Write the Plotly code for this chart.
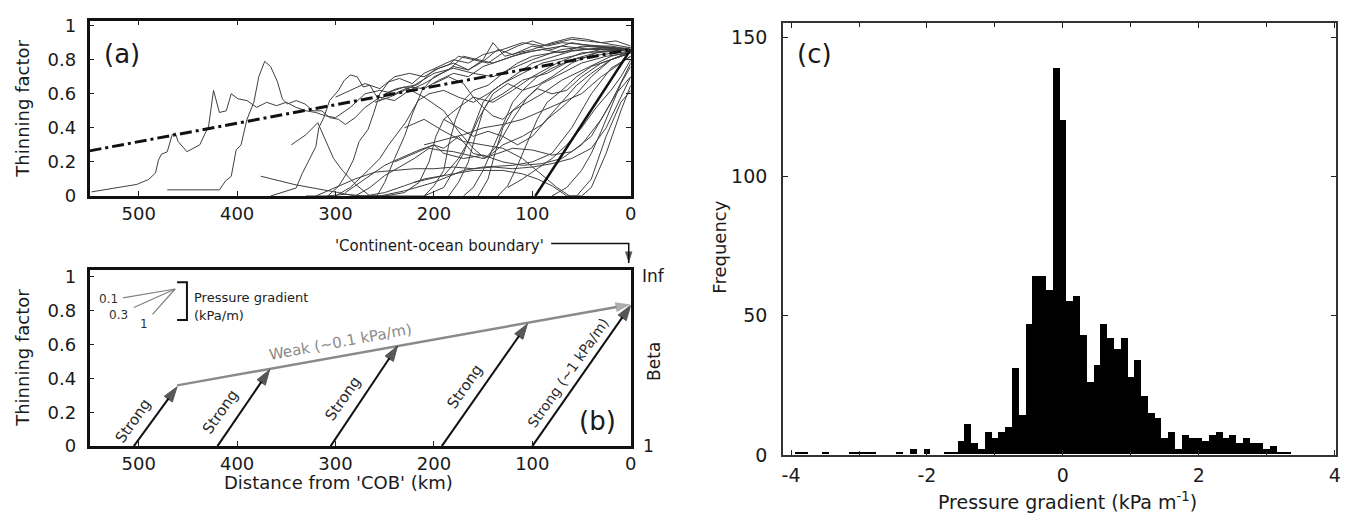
import plotly.graph_objects as go

# ---------------- data ----------------
# Panel (a): thinning-factor profiles vs distance from COB (km)
p01_km = [548, 502, 490, 483, 480, 477, 471, 466, 463, 460, 451, 438, 429, 424, 418, 411, 406, 399, 390, 380, 370, 360, 350, 340, 330, 320, 310, 300, 285, 270, 255, 240, 225, 210, 195, 180, 165, 150, 130, 110, 90, 70, 50, 25, 0]
p01_tf = [0.024, 0.068, 0.097, 0.135, 0.21, 0.245, 0.26, 0.36, 0.37, 0.32, 0.26, 0.30, 0.41, 0.62, 0.49, 0.50, 0.60, 0.57, 0.56, 0.52, 0.55, 0.53, 0.55, 0.52, 0.50, 0.49, 0.47, 0.46, 0.52, 0.60, 0.62, 0.60, 0.64, 0.63, 0.68, 0.72, 0.70, 0.76, 0.80, 0.84, 0.86, 0.84, 0.88, 0.87, 0.86]
p02_km = [471, 418, 412, 406, 401, 396, 390, 383, 378, 372, 366, 359, 354, 349, 340, 331, 323, 314, 306, 297, 290, 280, 270, 255, 240, 225, 210, 195, 180, 165, 150, 135, 120, 100, 80, 60, 40, 20, 0]
p02_tf = [0.036, 0.036, 0.087, 0.115, 0.27, 0.30, 0.45, 0.55, 0.70, 0.79, 0.76, 0.67, 0.57, 0.54, 0.56, 0.54, 0.50, 0.50, 0.46, 0.45, 0.42, 0.46, 0.52, 0.58, 0.56, 0.62, 0.66, 0.71, 0.76, 0.74, 0.79, 0.86, 0.83, 0.88, 0.86, 0.90, 0.88, 0.88, 0.86]
p03_km = [376, 340, 297, 280, 255, 230, 200, 170, 150, 120, 100, 80, 60, 40, 20, 0]
p03_tf = [0.116, 0.065, 0.02, 0.0, 0.0, 0.03, 0.08, 0.15, 0.17, 0.18, 0.20, 0.25, 0.40, 0.60, 0.75, 0.82]
p04_km = [366, 340, 334, 329, 324, 320, 317, 312, 306, 297, 291, 285, 278, 272, 265, 260, 255, 246, 238, 220, 200, 180, 160, 140, 120, 100, 70, 40, 0]
p04_tf = [0.0, 0.047, 0.13, 0.19, 0.25, 0.29, 0.40, 0.46, 0.56, 0.62, 0.68, 0.71, 0.70, 0.64, 0.65, 0.60, 0.56, 0.61, 0.63, 0.65, 0.72, 0.75, 0.72, 0.70, 0.75, 0.80, 0.86, 0.88, 0.86]
p05_km = [345, 330, 318, 310, 302, 293, 280, 265, 230, 210, 190, 170, 160, 150, 140, 120, 100, 60, 30, 0]
p05_tf = [0.30, 0.36, 0.43, 0.33, 0.22, 0.15, 0.07, 0.0, 0.0, 0.0, 0.05, 0.25, 0.40, 0.55, 0.62, 0.70, 0.78, 0.85, 0.87, 0.86]
p06_km = [308, 297, 289, 282, 276, 267, 261, 255, 246, 235, 222, 210, 195, 180, 165, 150, 130, 110, 90, 60, 30, 0]
p06_tf = [0.0, 0.056, 0.13, 0.21, 0.32, 0.39, 0.49, 0.60, 0.67, 0.69, 0.66, 0.72, 0.76, 0.80, 0.78, 0.83, 0.86, 0.90, 0.88, 0.92, 0.90, 0.87]
p07_km = [300, 285, 267, 255, 246, 238, 229, 223, 216, 205, 190, 175, 160, 145, 130, 110, 90, 60, 30, 0]
p07_tf = [0.0, 0.05, 0.15, 0.22, 0.30, 0.36, 0.43, 0.49, 0.56, 0.60, 0.62, 0.58, 0.55, 0.60, 0.66, 0.72, 0.78, 0.82, 0.86, 0.87]
p08_km = [290, 270, 250, 235, 215, 200, 190, 170, 150, 130, 110, 90, 70, 50, 30, 15, 0]
p08_tf = [0.02, 0.10, 0.18, 0.22, 0.27, 0.30, 0.25, 0.22, 0.24, 0.20, 0.18, 0.19, 0.22, 0.30, 0.45, 0.60, 0.70]
p09_km = [280, 265, 250, 235, 220, 205, 195, 180, 165, 150, 135, 120, 100, 80, 60, 40, 20, 0]
p09_tf = [0.0, 0.05, 0.12, 0.17, 0.22, 0.28, 0.27, 0.26, 0.24, 0.22, 0.25, 0.28, 0.27, 0.24, 0.26, 0.35, 0.55, 0.78]
p10_km = [258, 250, 240, 230, 222, 212, 200, 185, 170, 155, 140, 120, 100, 70, 40, 0]
p10_tf = [0.0, 0.08, 0.22, 0.35, 0.48, 0.62, 0.70, 0.74, 0.82, 0.80, 0.78, 0.82, 0.85, 0.88, 0.86, 0.86]
p11_km = [210, 200, 190, 185, 178, 170, 160, 145, 130, 115, 100, 80, 50, 20, 0]
p11_tf = [0.0, 0.06, 0.15, 0.30, 0.45, 0.56, 0.62, 0.65, 0.72, 0.78, 0.82, 0.84, 0.86, 0.87, 0.86]
p12_km = [250, 230, 210, 190, 175, 160, 148, 135, 120, 105, 90, 70, 50, 25, 0]
p12_tf = [0.60, 0.64, 0.58, 0.50, 0.38, 0.28, 0.22, 0.30, 0.45, 0.58, 0.66, 0.72, 0.78, 0.82, 0.84]
p13_km = [185, 175, 165, 158, 150, 140, 125, 110, 95, 80, 60, 35, 0]
p13_tf = [0.0, 0.08, 0.20, 0.35, 0.50, 0.60, 0.66, 0.62, 0.65, 0.70, 0.78, 0.84, 0.86]
p14_km = [170, 160, 150, 140, 130, 120, 110, 95, 80, 60, 30, 0]
p14_tf = [0.0, 0.05, 0.15, 0.28, 0.42, 0.55, 0.62, 0.70, 0.75, 0.80, 0.83, 0.85]
p15_km = [135, 125, 115, 105, 95, 85, 70, 55, 40, 20, 0]
p15_tf = [0.0, 0.06, 0.18, 0.32, 0.45, 0.55, 0.62, 0.70, 0.76, 0.80, 0.84]
p16_km = [230, 210, 190, 170, 150, 130, 110, 90, 75, 62, 50, 40, 25, 10, 0]
p16_tf = [0.40, 0.45, 0.38, 0.32, 0.30, 0.28, 0.22, 0.12, 0.05, 0.0, 0.0, 0.05, 0.25, 0.50, 0.65]
p17_km = [320, 300, 280, 260, 240, 220, 200, 180, 160, 140, 120, 100, 80, 60, 40, 25, 10, 0]
p17_tf = [0.0, 0.05, 0.10, 0.14, 0.15, 0.16, 0.16, 0.17, 0.16, 0.17, 0.16, 0.17, 0.19, 0.22, 0.28, 0.40, 0.58, 0.70]
p18_km = [300, 285, 270, 255, 240, 225, 210, 195, 180, 165, 150, 140, 128, 115, 100, 80, 60, 45, 30, 15, 0]
p18_tf = [0.58, 0.62, 0.66, 0.63, 0.70, 0.72, 0.70, 0.75, 0.78, 0.74, 0.80, 0.90, 0.82, 0.84, 0.86, 0.90, 0.93, 0.92, 0.90, 0.91, 0.88]
p19_km = [260, 245, 230, 215, 200, 185, 175, 160, 145, 130, 115, 100, 85, 70, 50, 30, 0]
p19_tf = [0.55, 0.58, 0.62, 0.66, 0.74, 0.77, 0.82, 0.80, 0.78, 0.84, 0.88, 0.91, 0.88, 0.90, 0.89, 0.88, 0.86]
p20_km = [200, 185, 170, 160, 150, 140, 130, 120, 110, 95, 80, 65, 50, 30, 0]
p20_tf = [0.66, 0.70, 0.66, 0.58, 0.52, 0.47, 0.45, 0.50, 0.55, 0.63, 0.60, 0.62, 0.70, 0.78, 0.84]
p21_km = [80, 65, 50, 40, 30, 20, 10, 0]
p21_tf = [0.0, 0.05, 0.15, 0.25, 0.38, 0.52, 0.66, 0.76]
p22_km = [125, 110, 95, 80, 65, 50, 35, 20, 10, 0]
p22_tf = [0.05, 0.10, 0.16, 0.22, 0.30, 0.40, 0.52, 0.62, 0.70, 0.80]
p23_km = [220, 190, 160, 130, 110, 95, 80, 65, 55, 40, 25, 10, 0]
p23_tf = [0.08, 0.12, 0.15, 0.15, 0.13, 0.10, 0.06, 0.0, 0.0, 0.10, 0.35, 0.55, 0.62]
p24_km = [210, 190, 170, 150, 130, 110, 90, 70, 50, 30, 0]
p24_tf = [0.30, 0.33, 0.36, 0.40, 0.42, 0.45, 0.50, 0.55, 0.60, 0.70, 0.82]
p25_km = [240, 220, 200, 190, 175, 160, 145, 130, 110, 90, 70, 55, 40, 20, 0]
p25_tf = [0.20, 0.25, 0.30, 0.28, 0.35, 0.25, 0.23, 0.30, 0.35, 0.42, 0.55, 0.65, 0.72, 0.80, 0.85]
p26_km = [155, 145, 138, 130, 120, 105, 90, 70, 45, 20, 0]
p26_tf = [0.0, 0.10, 0.25, 0.40, 0.50, 0.55, 0.60, 0.68, 0.75, 0.82, 0.85]
p27_km = [270, 250, 230, 210, 190, 175, 165, 155, 145, 130, 110, 85, 60, 30, 0]
p27_tf = [0.0, 0.02, 0.06, 0.10, 0.12, 0.22, 0.32, 0.45, 0.55, 0.60, 0.68, 0.72, 0.80, 0.85, 0.86]
p28_km = [190, 175, 160, 145, 130, 115, 100, 85, 70, 55, 40, 20, 0]
p28_tf = [0.45, 0.40, 0.35, 0.38, 0.35, 0.30, 0.35, 0.45, 0.52, 0.60, 0.70, 0.80, 0.84]
p29_km = [330, 310, 290, 270, 250, 230, 215, 205, 198, 190, 175, 160, 140, 120, 100, 75, 50, 0]
p29_tf = [0.0, 0.0, 0.01, 0.0, 0.0, 0.02, 0.08, 0.20, 0.35, 0.45, 0.52, 0.58, 0.55, 0.62, 0.70, 0.78, 0.84, 0.86]

profiles = [
    (p01_km, p01_tf), (p02_km, p02_tf), (p03_km, p03_tf), (p04_km, p04_tf), (p05_km, p05_tf),
    (p06_km, p06_tf), (p07_km, p07_tf), (p08_km, p08_tf), (p09_km, p09_tf), (p10_km, p10_tf),
    (p11_km, p11_tf), (p12_km, p12_tf), (p13_km, p13_tf), (p14_km, p14_tf), (p15_km, p15_tf),
    (p16_km, p16_tf), (p17_km, p17_tf), (p18_km, p18_tf), (p19_km, p19_tf), (p20_km, p20_tf),
    (p21_km, p21_tf), (p22_km, p22_tf), (p23_km, p23_tf), (p24_km, p24_tf), (p25_km, p25_tf),
    (p26_km, p26_tf), (p27_km, p27_tf), (p28_km, p28_tf), (p29_km, p29_tf),
]

model_weak_km = [550, 0]
model_weak_tf = [0.265, 0.86]
model_strong_km = [97, 0]
model_strong_tf = [0.0, 0.86]

# Panel (b): conceptual model
weak_km = [461, 0]
weak_tf = [0.358, 0.835]
strong_start_km = [505, 420, 305, 192, 100]
strong_start_tf = [0.0, 0.0, 0.0, 0.0, 0.0]
strong_end_km = [461, 367, 237, 105, 0]
strong_end_tf = [0.35, 0.45, 0.59, 0.72, 0.83]
strong_labels = ["Strong", "Strong", "Strong", "Strong", "Strong (~1 kPa/m)"]
inset_labels = ["0.1", "0.3", "1"]
inset_from_km = [516, 505, 486]
inset_from_tf = [0.874, 0.817, 0.777]
inset_apex_km = 463
inset_apex_tf = 0.926

# Panel (c): histogram of pressure gradient (kPa/m), bin width 0.1
hist_center = [-3.9, -3.8, -3.5, -3.1, -3.0, -2.9, -2.8, -2.4, -2.2, -2.0, -1.7, -1.6,
               -1.5, -1.4, -1.3, -1.2, -1.1, -1.0, -0.9, -0.8, -0.7, -0.6, -0.5, -0.4,
               -0.3, -0.2, -0.1, 0.0, 0.1, 0.2, 0.3, 0.4, 0.5, 0.6, 0.7, 0.8, 0.9, 1.0,
               1.1, 1.2, 1.3, 1.4, 1.5, 1.6, 1.7, 1.8, 1.9, 2.0, 2.1, 2.2, 2.3, 2.4,
               2.5, 2.6, 2.7, 2.8, 2.9, 3.0, 3.1, 3.2, 3.3]
hist_count = [1, 1, 1, 1, 1, 1, 1, 1, 2, 2, 1, 1,
              5, 11, 4, 2, 8, 6, 8, 10, 31, 14, 47, 64,
              64, 59, 139, 120, 55, 57, 43, 26, 32, 47, 42, 38, 42, 28,
              34, 21, 15, 13, 6, 8, 2, 7, 6, 6, 5, 7, 8, 6,
              7, 4, 6, 4, 4, 2, 3, 1, 1]

# ---------------- figure ----------------
FONT = "DejaVu Sans, Arial, sans-serif"
INK = "#1a1a1a"
W, H = 1351, 525


def px(x):
    return x / W


def py(y):
    return 1 - y / H


fig = go.Figure()

for km, tf in profiles:
    fig.add_trace(go.Scatter(x=km, y=tf, mode="lines", xaxis="x", yaxis="y",
                             line=dict(color="#3f3f3f", width=1), hoverinfo="skip"))
fig.add_trace(go.Scatter(x=model_weak_km, y=model_weak_tf, mode="lines", xaxis="x", yaxis="y",
                         line=dict(color="#111111", width=3, dash="12px,4px,3px,4px")))
fig.add_trace(go.Scatter(x=model_strong_km, y=model_strong_tf, mode="lines", xaxis="x", yaxis="y",
                         line=dict(color="#111111", width=2.5)))

# inset key in (b)
for k in range(len(inset_labels)):
    fig.add_trace(go.Scatter(x=[inset_from_km[k], inset_apex_km], y=[inset_from_tf[k], inset_apex_tf],
                             mode="lines", xaxis="x2", yaxis="y2",
                             line=dict(color="#808080", width=1.2), hoverinfo="skip"))
fig.add_trace(go.Scatter(x=[461, 451, 451, 461], y=[0.966, 0.966, 0.743, 0.743], mode="lines",
                         xaxis="x2", yaxis="y2", line=dict(color="#111111", width=2), hoverinfo="skip"))

# weak-gradient arrow (grey)
fig.add_trace(go.Scatter(x=weak_km, y=weak_tf, mode="lines+markers", xaxis="x2", yaxis="y2",
                         line=dict(color="#8a8a8a", width=2.5),
                         marker=dict(symbol="arrow", size=[0, 16], angleref="previous", color="#8a8a8a",
                                     line=dict(width=0))))
# strong-gradient arrows (black)
for k in range(len(strong_start_km)):
    fig.add_trace(go.Scatter(x=[strong_start_km[k], strong_end_km[k]], y=[strong_start_tf[k], strong_end_tf[k]],
                             mode="lines+markers", xaxis="x2", yaxis="y2",
                             line=dict(color="#111111", width=2),
                             marker=dict(symbol="arrow", size=[0, 16], angleref="previous", color="#111111",
                                         line=dict(width=1, color="#111111"))))

fig.add_trace(go.Bar(x=hist_center, y=hist_count, width=0.1, xaxis="x3", yaxis="y3",
                     marker=dict(color="#000000", line=dict(width=0))))

# bent 'Continent-ocean boundary' pointer, on a full-figure pixel overlay
fig.add_trace(go.Scatter(x=[553, 631, 631], y=[246, 246, 266], mode="lines+markers", xaxis="x4", yaxis="y4",
                         line=dict(color="#111111", width=1.5),
                         marker=dict(symbol="arrow", size=[0, 0, 12], angleref="previous", color="#111111",
                                     line=dict(width=0)), cliponaxis=False))

tickfont = dict(family=FONT, size=18, color=INK)
tickfont_c = dict(family=FONT, size=19, color=INK)

common = dict(showgrid=False, zeroline=False, showline=True, ticks="inside", ticklen=5,
              tickcolor="#222222", fixedrange=True)

layout = dict(
    width=W, height=H, margin=dict(l=0, r=0, t=0, b=0),
    paper_bgcolor="white", plot_bgcolor="rgba(0,0,0,0)", showlegend=False, bargap=0,
    xaxis=dict(domain=[px(89), px(633)], anchor="y", range=[550, 0],
               tickvals=[500, 400, 300, 200, 100, 0], mirror="ticks", linewidth=2.5,
               linecolor="#111111", tickfont=tickfont, ticklabelstandoff=0, **common),
    yaxis=dict(domain=[py(197), py(16)], anchor="x", range=[0, 1.03],
               tickvals=[0, 0.2, 0.4, 0.6, 0.8, 1], ticktext=["0", "0.2", "0.4", "0.6", "0.8", "1"],
               mirror="ticks", linewidth=2.5, linecolor="#111111", tickfont=tickfont,
               ticklabelstandoff=7, **common),
    xaxis2=dict(domain=[px(89), px(633)], anchor="y2", range=[550, 0],
                tickvals=[500, 400, 300, 200, 100, 0], mirror=True, linewidth=2.5,
                linecolor="#111111", tickfont=tickfont, ticklabelstandoff=0, **common),
    yaxis2=dict(domain=[py(455), py(273)], anchor="x2", range=[0, 1.04],
                tickvals=[0, 0.2, 0.4, 0.6, 0.8, 1], ticktext=["0", "0.2", "0.4", "0.6", "0.8", "1"],
                mirror=True, linewidth=2.5, linecolor="#111111", tickfont=tickfont,
                ticklabelstandoff=7, **common),
    xaxis3=dict(domain=[px(786), px(1342)], anchor="y3", range=[-4.12, 4.02],
                tickvals=[-4, -2, 0, 2, 4], ticktext=["-4", "-2", "0", "2", "4"],
                mirror="ticks", linewidth=1.5, linecolor="#333333",
                tickfont=tickfont_c, ticklabelstandoff=3,
                minor=dict(tickvals=[-3, -1, 1, 3], ticks="inside", ticklen=4, tickcolor="#222222"),
                **common),
    yaxis3=dict(domain=[py(464), py(19)], anchor="x3", range=[0, 155],
                tickvals=[0, 50, 100, 150], mirror="ticks", linewidth=1.5, linecolor="#333333",
                tickfont=tickfont_c, ticklabelstandoff=10, **common),
    xaxis4=dict(domain=[0, 1], anchor="y4", range=[0, W], visible=False, fixedrange=True),
    yaxis4=dict(domain=[0, 1], anchor="x4", range=[H, 0], visible=False, fixedrange=True),
)

ann = []


def text(t, x, y, size, xref="paper", yref="paper", angle=0, color=INK, xanchor="center", yanchor="middle"):
    ann.append(dict(text=t, x=x, y=y, xref=xref, yref=yref, showarrow=False, textangle=angle,
                    font=dict(family=FONT, size=size, color=color), xanchor=xanchor, yanchor=yanchor))


# axis titles
text("Thinning factor", px(22), py(107), 18, angle=-90)
text("Thinning factor", px(22), py(364), 18, angle=-90)
text("Distance from 'COB' (km)", px(339), py(493), 18)
text("Frequency", px(722), py(250), 18, angle=-90)
text("Pressure gradient (kPa m<sup>-1</sup>)", px(1072), py(512), 19)

# panel labels
text("(a)", 517, 0.835, 26, xref="x", yref="y")
text("(b)", 34, 0.147, 26, xref="x2", yref="y2")
text("(c)", px(818), py(51), 26)

# right-hand labels of (b)
text("Inf", px(642), 1.0, 17, yref="y2", xanchor="left")
text("Beta", px(657), 0.5, 17, yref="y2", angle=-90)
text("1", px(643), 0.0, 17, yref="y2", xanchor="left")

# COB label
text("'Continent-ocean boundary'", px(441), py(249), 15)

# weak label
text("Weak (~0.1 kPa/m)", 295, 0.615, 15, xref="x2", yref="y2", angle=-10.4, color="#8a8a8a")

# strong labels
strong_text_pos = [(506, 0.15), (417, 0.20), (293, 0.28), (169, 0.35), (64, 0.434)]
for k in range(len(strong_labels)):
    tx, ty = strong_text_pos[k]
    text(strong_labels[k], tx, ty, 15 if k < 4 else 14, xref="x2", yref="y2", angle=-55, color="#2a2a2a")

# inset labels
inset_text_pos = [(531, 0.87), (521, 0.77), (495, 0.72)]
for k in range(len(inset_labels)):
    tx, ty = inset_text_pos[k]
    text(inset_labels[k], tx, ty, 12, xref="x2", yref="y2", color="#333333")
text("Pressure gradient", 446, 0.874, 13, xref="x2", yref="y2", xanchor="left", color="#222222")
text("(kPa/m)", 446, 0.771, 13, xref="x2", yref="y2", xanchor="left", color="#222222")

layout["annotations"] = ann
fig.update_layout(**layout)
fig.update_traces(selector=dict(type="scatter"), showlegend=False)

fig.write_html("out.html", config={"displayModeBar": False},
               post_script="document.body.style.margin='0';document.body.style.overflow='hidden';")
